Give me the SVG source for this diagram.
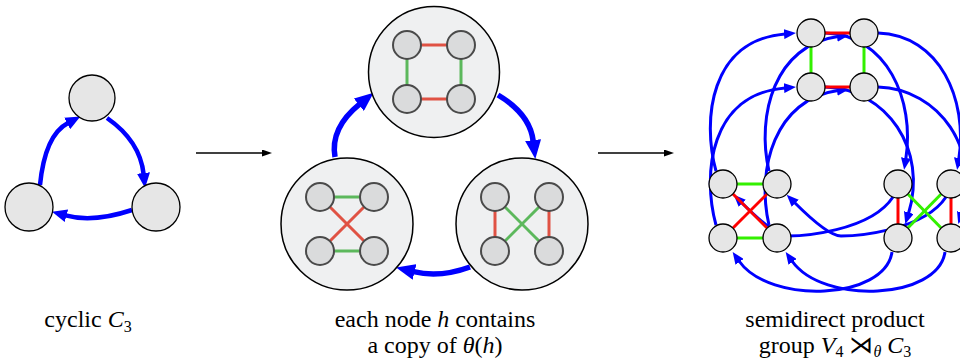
<svg xmlns="http://www.w3.org/2000/svg" width="960" height="362" viewBox="0 0 960 362">
<defs>
<style>
.n1{fill:#e6e6e6;stroke:#000;stroke-width:1.3}
.big{fill:#eff0f1;stroke:#000;stroke-width:1.5}
.sn{fill:#dadbdc;stroke:#4a4a4a;stroke-width:2}
.rn{fill:#e6e6e6;stroke:#000;stroke-width:1.3}
.er{stroke:#e05244;stroke-width:3}
.eg{stroke:#5cb85c;stroke-width:3}
.r{stroke:#ff0000;stroke-width:3}
.g{stroke:#33f000;stroke-width:3}
.bl{fill:none;stroke:#0000ff;stroke-width:4.5;marker-end:url(#aL)}
.bm{fill:none;stroke:#0000ff;stroke-width:5.5;marker-end:url(#aM)}
.br{fill:none;stroke:#0000ff;stroke-width:3;marker-end:url(#aR)}
.k{stroke:#000;stroke-width:1.3;marker-end:url(#aK)}
text{font-family:"Liberation Serif","DejaVu Serif",serif;font-size:24px;fill:#000}
</style>
<marker id="aL" markerUnits="userSpaceOnUse" markerWidth="16" markerHeight="13" refX="1" refY="6.5" orient="auto"><path d="M0,0 L15,6.5 L0,13 z" fill="#0000ff"/></marker>
<marker id="aM" markerUnits="userSpaceOnUse" markerWidth="20" markerHeight="16" refX="1" refY="8" orient="auto"><path d="M0,0 L19,8 L0,16 z" fill="#0000ff"/></marker>
<marker id="aR" markerUnits="userSpaceOnUse" markerWidth="13" markerHeight="10" refX="1" refY="5" orient="auto"><path d="M0,0 L12,5 L0,10 z" fill="#0000ff"/></marker>
<marker id="aK" markerUnits="userSpaceOnUse" markerWidth="11" markerHeight="7" refX="1" refY="3.5" orient="auto"><path d="M0,0 L10,3.5 L0,7 z" fill="#000"/></marker>
</defs>
<rect width="960" height="362" fill="#fff"/>

<!-- connectors -->
<g id="connectors">
  <!-- left diagram -->
  <path class="bl" d="M40,185 Q45,135 68,123"/>
  <path class="bl" d="M107,118 Q140,141 143.6,174"/>
  <path class="bl" d="M132,210 Q93,223 65.5,215.4"/>
  <!-- between diagrams -->
  <line class="k" x1="196" y1="153" x2="263" y2="153"/>
  <line class="k" x1="598" y1="153" x2="665" y2="153"/>
  <!-- middle diagram -->
  <path class="bm" d="M335,157 Q330,128 359.6,104.1"/>
  <path class="bm" d="M498,95 Q530,114 533.2,141.1"/>
  <path class="bm" d="M470,267 Q440,278 413.6,271.7"/>
  <!-- right diagram: L to T -->
  <path class="br" d="M716,171 C702,120 710,40 785,34"/>
  <path class="br" d="M716,225 C702,174 710,94 785,88"/>
  <path class="br" d="M769,171 C756,115 775,45 838,36.6"/>
  <path class="br" d="M769,225 C756,169 775,99 838,90.6"/>
  <!-- T to R -->
  <path class="br" d="M825,33 C887,35 915,100 905.8,159"/>
  <path class="br" d="M878,33 C940,35 968,100 958.8,159"/>
  <path class="br" d="M825,87 C887,89 928,150 908.5,213.5"/>
  <path class="br" d="M878,87 C940,89 981,150 961.5,213.5"/>
  <!-- R to L -->
  <path class="br" d="M893,197 C870,232 800,236 788,236 Q775,236 741.5,202.5"/>
  <path class="br" d="M946,197 C923,232 853,236 841,236 Q828,236 794.5,202.5"/>
  <path class="br" d="M892,252 C885,300 770,305 739,261"/>
  <path class="br" d="M945,252 C938,300 823,305 792,261"/>
</g>

<!-- left diagram nodes -->
<g id="c3-0"><circle class="n1" cx="92" cy="98" r="23"/></g>
<g id="c3-1"><circle class="n1" cx="156" cy="207" r="24"/></g>
<g id="c3-2"><circle class="n1" cx="29" cy="207" r="24"/></g>

<!-- middle diagram -->
<g id="m-top">
  <circle class="big" cx="434" cy="72" r="65.5"/>
  <line class="er" x1="407" y1="45" x2="461" y2="45"/>
  <line class="er" x1="407" y1="99" x2="461" y2="99"/>
  <line class="eg" x1="407" y1="45" x2="407" y2="99"/>
  <line class="eg" x1="461" y1="45" x2="461" y2="99"/>
  <g id="m-top-1"><circle class="sn" cx="407" cy="45" r="14"/></g>
  <g id="m-top-2"><circle class="sn" cx="461" cy="45" r="14"/></g>
  <g id="m-top-3"><circle class="sn" cx="407" cy="99" r="14"/></g>
  <g id="m-top-4"><circle class="sn" cx="461" cy="99" r="14"/></g>
</g>
<g id="m-left">
  <circle class="big" cx="347" cy="224" r="66"/>
  <line class="eg" x1="320" y1="197" x2="374" y2="197"/>
  <line class="eg" x1="320" y1="251" x2="374" y2="251"/>
  <line class="er" x1="320" y1="197" x2="374" y2="251"/>
  <line class="er" x1="374" y1="197" x2="320" y2="251"/>
  <g id="m-left-1"><circle class="sn" cx="320" cy="197" r="14"/></g>
  <g id="m-left-2"><circle class="sn" cx="374" cy="197" r="14"/></g>
  <g id="m-left-3"><circle class="sn" cx="320" cy="251" r="14"/></g>
  <g id="m-left-4"><circle class="sn" cx="374" cy="251" r="14"/></g>
</g>
<g id="m-right">
  <circle class="big" cx="522" cy="224" r="66"/>
  <line class="er" x1="495" y1="197" x2="495" y2="251"/>
  <line class="er" x1="549" y1="197" x2="549" y2="251"/>
  <line class="eg" x1="495" y1="197" x2="549" y2="251"/>
  <line class="eg" x1="549" y1="197" x2="495" y2="251"/>
  <g id="m-right-1"><circle class="sn" cx="495" cy="197" r="14"/></g>
  <g id="m-right-2"><circle class="sn" cx="549" cy="197" r="14"/></g>
  <g id="m-right-3"><circle class="sn" cx="495" cy="251" r="14"/></g>
  <g id="m-right-4"><circle class="sn" cx="549" cy="251" r="14"/></g>
</g>

<!-- right diagram edges -->
<g id="edges">
  <line class="r" x1="811" y1="33" x2="864" y2="33"/>
  <line class="r" x1="811" y1="87" x2="864" y2="87"/>
  <line class="g" x1="811" y1="33" x2="811" y2="87"/>
  <line class="g" x1="864" y1="33" x2="864" y2="87"/>
  <line class="g" x1="723" y1="184" x2="777" y2="184"/>
  <line class="g" x1="723" y1="238" x2="777" y2="238"/>
  <line class="r" x1="723" y1="184" x2="777" y2="238"/>
  <line class="r" x1="777" y1="184" x2="723" y2="238"/>
  <line class="r" x1="898" y1="184" x2="898" y2="238"/>
  <line class="r" x1="951" y1="184" x2="951" y2="238"/>
  <line class="g" x1="898" y1="184" x2="951" y2="238"/>
  <line class="g" x1="951" y1="184" x2="898" y2="238"/>
</g>

<!-- right diagram nodes -->
<g id="t1"><circle class="rn" cx="811" cy="33" r="14"/></g>
<g id="t2"><circle class="rn" cx="864" cy="33" r="14"/></g>
<g id="t3"><circle class="rn" cx="811" cy="87" r="14"/></g>
<g id="t4"><circle class="rn" cx="864" cy="87" r="14"/></g>
<g id="l1"><circle class="rn" cx="723" cy="184" r="14"/></g>
<g id="l2"><circle class="rn" cx="777" cy="184" r="14"/></g>
<g id="l3"><circle class="rn" cx="723" cy="238" r="14"/></g>
<g id="l4"><circle class="rn" cx="777" cy="238" r="14"/></g>
<g id="r1"><circle class="rn" cx="898" cy="184" r="14"/></g>
<g id="r2"><circle class="rn" cx="951" cy="184" r="14"/></g>
<g id="r3"><circle class="rn" cx="898" cy="238" r="14"/></g>
<g id="r4"><circle class="rn" cx="951" cy="238" r="14"/></g>

<!-- labels -->
<g id="labels">
  <text x="88" y="327" text-anchor="middle">cyclic <tspan font-style="italic">C</tspan><tspan font-size="16" dy="5">3</tspan></text>
  <text x="435" y="327" text-anchor="middle">each node <tspan font-style="italic">h</tspan> contains</text>
  <text x="435" y="353" text-anchor="middle">a copy of <tspan font-style="italic">θ</tspan>(<tspan font-style="italic">h</tspan>)</text>
  <text x="835" y="327" text-anchor="middle">semidirect product</text>
  <text x="835" y="353" text-anchor="middle">group <tspan font-style="italic">V</tspan><tspan font-size="16" dy="4">4</tspan><tspan dy="-4"> ⋊</tspan><tspan font-size="16" font-style="italic" dy="4">θ</tspan><tspan dy="-4"> </tspan><tspan font-style="italic">C</tspan><tspan font-size="16" dy="4">3</tspan></text>
</g>
</svg>
